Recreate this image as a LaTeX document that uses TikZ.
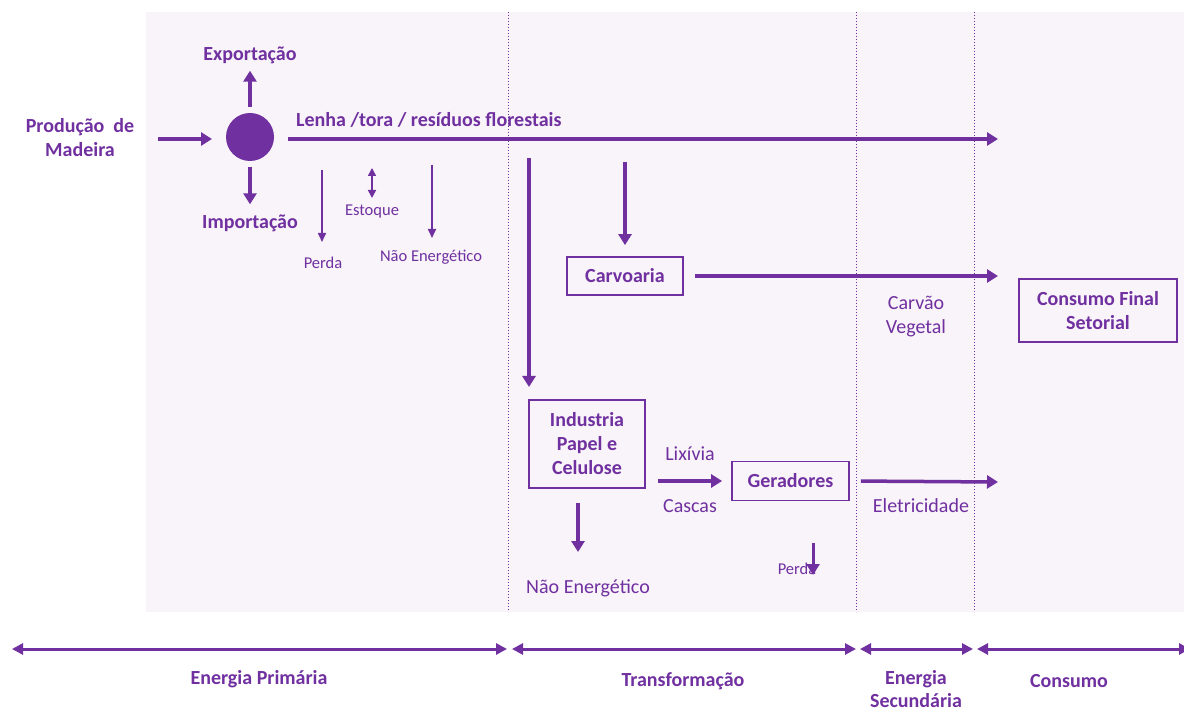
\documentclass[tikz,border=0pt]{standalone}
\usepackage{fontspec}
\setmainfont{Carlito}
\usetikzlibrary{arrows.meta}
\definecolor{flowpurple}{HTML}{7030A0}
\definecolor{panelbg}{HTML}{F8F4F9}
\tikzset{
  lbl/.style={text=flowpurple, font=\fontsize{20}{24}\selectfont, align=center, inner sep=0pt},
  blbl/.style={text=flowpurple, font=\bfseries\fontsize{20}{24}\selectfont, align=center, inner sep=0pt},
  smalllbl/.style={text=flowpurple, font=\fontsize{16.5}{19}\selectfont, align=center, inner sep=0pt},
  procbox/.style={draw=flowpurple, line width=1.8pt, text=flowpurple,
    font=\bfseries\fontsize{20}{24}\selectfont, align=center, inner sep=0pt},
  flow/.style={draw=flowpurple, line width=3.5pt, -{Triangle[length=11pt,width=13pt]}},
  thinflow/.style={draw=flowpurple, line width=1.6pt, -{Triangle[length=9pt,width=8pt]}},
  thinboth/.style={draw=flowpurple, line width=1.6pt, {Triangle[length=8pt,width=8pt]}-{Triangle[length=8pt,width=8pt]}},
  stagearrow/.style={draw=flowpurple, line width=3pt, {Triangle[length=11pt,width=11pt]}-{Triangle[length=11pt,width=11pt]}},
  divider/.style={draw=flowpurple, line width=1pt, dotted},
}
\begin{document}
\begin{tikzpicture}[x=1pt, y=-1pt]
\useasboundingbox (0,0) rectangle (1184,711);

% shaded panel and stage dividers
\fill[panelbg] (146,12) rectangle (1184,612);
\draw[divider] (508,12) -- (508,612);
\draw[divider] (856,12) -- (856,612);
\draw[divider] (974,12) -- (974,612);

% primary energy: wood supply
\node[blbl] (prod) at (80,138) {Produção\ \ de\\Madeira};
\node[circle, fill=flowpurple, minimum size=48pt, inner sep=0pt] (hub) at (250,137) {};
\node[blbl] (exp) at (250,55) {Exportação};
\node[blbl] (imp) at (250,223) {Importação};
\node[blbl, anchor=west] (lenha) at (296,120) {Lenha /tora / resíduos florestais};

\coordinate (prodout) at (158,139);
\coordinate (hubin) at (212,139);
\draw[flow] (prodout) -- (hubin);
\draw[flow, shorten <=6pt, shorten >=7pt] (hub.north) -- (exp.south);
\draw[flow, shorten <=6pt, shorten >=10pt] (hub.south) -- (imp.north);

\coordinate (mainstart) at (288,139);
\coordinate (mainend) at (998,139);
\draw[flow] (mainstart) -- (mainend);

% losses, stock and non-energy use
\node[smalllbl] (perda1) at (323,263) {Perda};
\node[smalllbl] (estoque) at (372,212) {Estoque};
\node[smalllbl] (naoen1) at (431,257) {Não Energético};
\coordinate (perda1top) at (322,170);
\coordinate (estoquetop) at (372,168);
\coordinate (naoen1top) at (432,165);
\draw[thinflow] (perda1top) -- (322,242);
\draw[thinboth] (estoquetop) -- (372,198);
\draw[thinflow] (naoen1top) -- (432,238);

% transformation
\node[procbox, minimum width=116pt, minimum height=38pt] (carv) at (625,276) {Carvoaria};
\node[procbox, minimum width=116pt, minimum height=88pt] (ind) at (587,444) {Industria\\Papel e\\Celulose};
\node[procbox, minimum width=117pt, minimum height=39pt] (ger) at (790.5,481) {Geradores};
\node[procbox, minimum width=158pt, minimum height=63pt] (cons) at (1098,310.5) {Consumo Final\\Setorial};

\coordinate (carvtop) at (625,162);
\draw[flow, shorten >=11pt] (carvtop) -- (carv.north);
\coordinate (indtop) at (529,158);
\coordinate (indend) at (529,387);
\draw[flow] (indtop) -- (indend);

\coordinate (carvend) at (998,276);
\draw[flow, shorten <=11pt] (carv.east) -- (carvend);
\node[lbl] (carvao) at (916,317) {Carvão\\Vegetal};

\node[lbl] (lixivia) at (690,454) {Lixívia};
\node[lbl] (cascas) at (690,506) {Cascas};
\draw[flow, shorten <=12pt, shorten >=9pt] (ind.east |- ger.west) -- (ger.west);

\coordinate (eletend) at (998,482);
\draw[flow, shorten <=11pt] (ger.east) -- (eletend);
\node[lbl] (elet) at (921,506) {Eletricidade};

\coordinate (ind2top) at (578,503);
\coordinate (ind2end) at (578,552);
\draw[flow] (ind2top) -- (ind2end);
\node[lbl] (naoen2) at (588,588) {Não Energético};

\node[smalllbl] (perda2) at (797,569) {Perda};
\coordinate (perda2top) at (813,543);
\coordinate (perda2end) at (813,575);
\draw[flow, line width=3pt] (perda2top) -- (perda2end);

% stage ranges
\coordinate (s0) at (12,649);
\coordinate (s1) at (507,649);
\coordinate (s2) at (512,649);
\coordinate (s3) at (856,649);
\coordinate (s4) at (860,649);
\coordinate (s5) at (973,649);
\coordinate (s6) at (977,649);
\coordinate (s7) at (1190,649);
\draw[stagearrow] (s0) -- (s1);
\draw[stagearrow] (s2) -- (s3);
\draw[stagearrow] (s4) -- (s5);
\draw[stagearrow] (s6) -- (s7);

\node[blbl] (primaria) at (259,679) {Energia Primária};
\node[blbl] (transf) at (683,681) {Transformação};
\node[text=flowpurple, font=\bfseries\fontsize{20}{23}\selectfont, align=center, inner sep=0pt] (secund) at (916,689) {Energia\\Secundária};
\node[blbl] (consumo) at (1069,681) {Consumo};
\end{tikzpicture}
\end{document}
